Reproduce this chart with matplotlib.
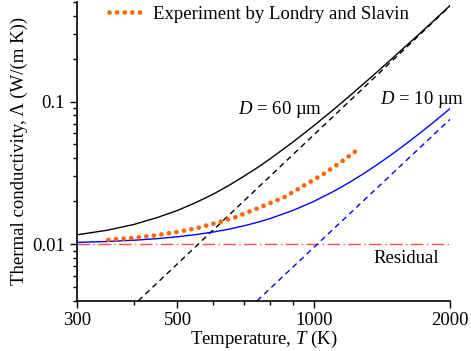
import matplotlib
matplotlib.use('Agg')
import matplotlib.pyplot as plt
from matplotlib.ticker import FixedLocator, NullFormatter, FixedFormatter

plt.rcParams['font.family'] = ['Liberation Serif', 'DejaVu Serif']
plt.rcParams['mathtext.fontset'] = 'custom'
plt.rcParams['mathtext.rm'] = 'Liberation Serif'
plt.rcParams['mathtext.it'] = 'Liberation Serif:italic'

temp = [300, 350, 400, 450, 500, 550, 600, 650, 700, 750, 800, 900, 1000, 1100,
        1200, 1300, 1400, 1500, 1600, 1700, 1800, 1900, 2000]
# total conductivity, D = 60 um
total_60 = [0.0116, 0.0125, 0.0137, 0.0153, 0.0172, 0.0196, 0.0224, 0.0258, 0.0298,
            0.0343, 0.0395, 0.052, 0.0676, 0.0866, 0.1095, 0.1365, 0.168, 0.2044,
            0.246, 0.293, 0.346, 0.405, 0.472]
# total conductivity, D = 10 um
total_10 = [0.01027, 0.01042, 0.01063, 0.0109, 0.01124, 0.01165, 0.01214, 0.01272,
            0.0134, 0.01418, 0.01507, 0.01722, 0.0199, 0.02318, 0.0271, 0.03175,
            0.03717, 0.04341, 0.05055, 0.05864, 0.06774, 0.0779, 0.0892]

# radiative parts (straight in log-log)
rad_temp_60 = [410, 2000]
rad_60 = [0.004, 0.468]
rad_temp_10 = [750, 2000]
rad_10 = [0.004, 0.075]

# residual
res_temp = [300, 2000]
res_val = [0.01, 0.01]

# experiment by Londry and Slavin
exp_temp = [352, 395, 442, 496, 556, 625, 671, 774, 863, 953, 1054, 1162, 1234]
exp_val = [0.0107, 0.0110, 0.01145, 0.0121, 0.0130, 0.0144, 0.0154, 0.0185, 0.0214,
           0.0258, 0.0312, 0.0386, 0.0445]

fs = 13.5

fig = plt.figure(figsize=(4.71, 3.51), dpi=100)
ax = fig.add_axes([0.1635, 0.1433, 0.7919, 0.8510])

ax.plot(res_temp, res_val, color='#ff3b3b', lw=1.0, dashes=(9, 2.5, 1, 2.5), alpha=0.9)
ax.plot(temp, total_60, color='black', lw=1.0)
ax.plot(rad_temp_60, rad_60, color='black', lw=1.0, dashes=(4, 3))
ax.plot(temp, total_10, color='#0000ff', lw=1.0)
ax.plot(rad_temp_10, rad_10, color='#0000ff', lw=1.0, dashes=(4, 3))
ax.plot(exp_temp, exp_val, color='#ff6600', lw=3.4, dashes=(0.01, 1.6),
        dash_capstyle='round', label='Experiment by Londry and Slavin')

ax.set_xscale('log')
ax.set_yscale('log')
ax.set_xlim(300, 2000)
ax.set_ylim(0.004, 0.5)

ax.xaxis.set_major_locator(FixedLocator([300, 500, 1000, 2000]))
ax.xaxis.set_major_formatter(FixedFormatter(['300', '500', '1000', '2000']))
ax.xaxis.set_minor_locator(FixedLocator([400, 600, 700, 800, 900]))
ax.xaxis.set_minor_formatter(NullFormatter())
ax.yaxis.set_major_locator(FixedLocator([0.01, 0.1]))
ax.yaxis.set_major_formatter(FixedFormatter(['0.01', '0.1']))
ax.yaxis.set_minor_locator(FixedLocator([0.004, 0.005, 0.006, 0.007, 0.008, 0.009,
                                         0.02, 0.03, 0.04, 0.05, 0.06, 0.07, 0.08, 0.09,
                                         0.2, 0.3, 0.4, 0.5]))
ax.yaxis.set_minor_formatter(NullFormatter())

ax.tick_params(which='major', length=5, width=1, labelsize=fs, direction='out')
ax.tick_params(which='minor', length=3, width=1, direction='out')
ax.tick_params(axis='x', pad=3)

for s in ['top', 'right']:
    ax.spines[s].set_visible(False)
for s in ['left', 'bottom']:
    ax.spines[s].set_linewidth(1.2)

ax.set_xlabel('Temperature, $T$ (K)', fontsize=fs, labelpad=0)
ax.set_ylabel('Thermal conductivity, Λ (W/(m K))', fontsize=fs, labelpad=3)

ax.text(681, 0.0877, '$D$ = 60 µm', fontsize=fs, ha='left', va='center')
ax.text(1404, 0.103, '$D$ = 10 µm', fontsize=fs, ha='left', va='center', clip_on=False)
ax.text(1355, 0.00796, 'Residual', fontsize=fs, ha='left', va='center')

leg = ax.legend(loc='upper left', bbox_to_anchor=(0.04, 1.045), frameon=False,
                fontsize=fs, handlelength=1.76, handletextpad=0.6)

fig.savefig('out.png', dpi=100)
